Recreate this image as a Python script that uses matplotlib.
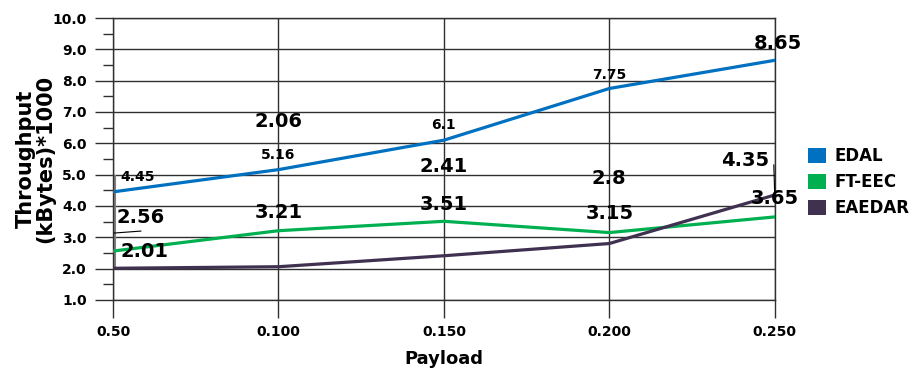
import matplotlib.pyplot as plt
from matplotlib.patches import Patch
from matplotlib.ticker import MultipleLocator
from matplotlib.transforms import offset_copy

# --------------------------------------------------
# Throughput per payload for each scheme
# --------------------------------------------------
payloads = ["0.50", "0.100", "0.150", "0.200", "0.250"]
edal = [4.45, 5.16, 6.1, 7.75, 8.65]
ft_eec = [2.56, 3.21, 3.51, 3.15, 3.65]
eaedar = [2.01, 2.06, 2.41, 2.8, 4.35]

series = [
    ("EDAL", edal, "#0070C0"),
    ("FT-EEC", ft_eec, "#00B050"),
    ("EAEDAR", eaedar, "#403151"),
]

# label offsets (pixels) and font sizes for the value tags
edal_offsets = [(25, 15), (0, 15), (0, 15), (0, 14), (3, 17)]
ft_eec_offsets = [(28, 34), (0, 18), (0, 17), (0, 19), (0, 18)]
eaedar_offsets = [(31, 17), (0, 145), (0, 89), (0, 65), (-30, 34)]
offsets = [edal_offsets, ft_eec_offsets, eaedar_offsets]
label_sizes = [[10, 10, 10, 10, 14], [14] * 5, [14] * 5]

fig = plt.figure(figsize=(9.19, 3.68), dpi=100)
ax = fig.add_axes([0.123, 0.185, 0.72, 0.766])

x = list(range(len(payloads)))
for (name, vals, color), offs, sizes in zip(series, offsets, label_sizes):
    ax.plot(x, vals, color=color, linewidth=2.3, label=name, zorder=3)
    for xi, v, (dx, dy), fs in zip(x, vals, offs, sizes):
        ax.annotate(f"{v:g}", (xi, v), xytext=(dx, dy), textcoords="offset pixels",
                    ha="center", va="center", fontsize=fs, fontweight="bold",
                    zorder=4)

# leader lines for the tags on the first and last columns
left_lead = offset_copy(ax.transData, fig=fig, x=1.5, y=0, units="dots")
ax.plot([0, 0], [eaedar[0], edal[0] + 0.5], color="#808080", lw=1.5, zorder=2,
        transform=left_lead)
ax.annotate("", (0, ft_eec[0]), xycoords=offset_copy(ax.transData, fig=fig, x=1, y=18, units="dots"),
            xytext=(27, 2), textcoords="offset pixels",
            arrowprops=dict(arrowstyle="-", color="black", lw=0.8, shrinkA=0, shrinkB=0))
ax.annotate("", (4, eaedar[4]), xytext=(-1, 33), textcoords="offset pixels",
            arrowprops=dict(arrowstyle="-", color="black", lw=0.8))

ax.set_xlim(0, 4)
ax.set_ylim(1.0, 10.0)
ax.set_xticks(x)
ax.set_xticklabels(payloads, fontweight="bold", fontsize=10)
ax.yaxis.set_major_locator(MultipleLocator(1.0))
ax.yaxis.set_minor_locator(MultipleLocator(0.5))
ax.set_yticklabels([f"{t:.1f}" for t in ax.get_yticks()], fontweight="bold", fontsize=10)

ax.tick_params(axis="both", which="major", length=13, width=1, color="#303030", direction="out")
ax.tick_params(axis="y", which="major", pad=6)
ax.tick_params(axis="x", which="major", pad=5)
ax.tick_params(axis="y", which="minor", length=7, width=1, color="#303030")
ax.grid(True, axis="both", which="major", color="#303030", linewidth=1)
for s in ax.spines.values():
    s.set_color("#303030")
    s.set_linewidth(1)

ax.set_xlabel("Payload", fontsize=13, fontweight="bold", labelpad=8)
ax.set_ylabel("Throughput\n(kBytes)*1000", fontsize=15, fontweight="bold", linespacing=0.95)
ax.yaxis.set_label_coords(-0.088, 0.5)

handles = [Patch(facecolor=c, label=n) for n, _, c in series]
fig.legend(handles=handles, loc="center left", bbox_to_anchor=(0.879, 0.505),
           frameon=False, borderpad=0, borderaxespad=0,
           handlelength=1.08, handleheight=1.0, handletextpad=0.55,
           labelspacing=0.5, prop={"weight": "bold", "size": 12})

fig.savefig("out.png", dpi=100)
